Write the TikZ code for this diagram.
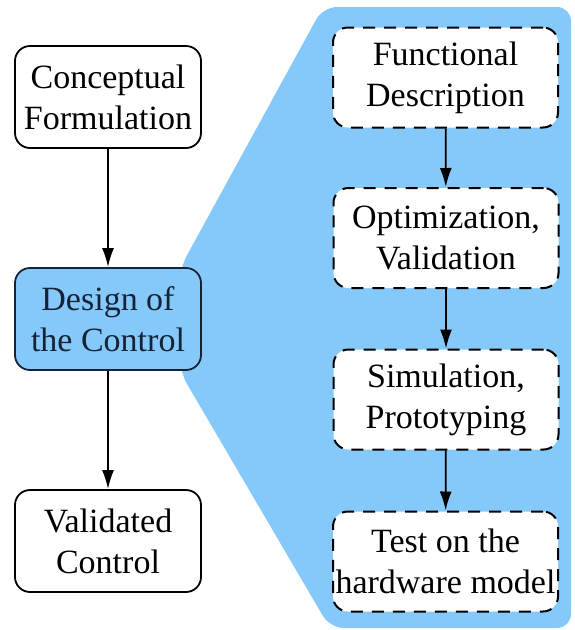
\documentclass[tikz,border=0pt]{standalone}
\usepackage{fontspec}
\setmainfont{Liberation Serif}
\usetikzlibrary{arrows.meta}
\definecolor{skyb}{RGB}{133,201,250}
\definecolor{navy}{RGB}{20,35,55}
\tikzset{
  box/.style={draw=black, line width=1.8pt, rounded corners=15pt, align=center,
    font=\fontsize{34}{41}\selectfont, inner sep=0pt, fill=white},
  leftbox/.style={box, minimum width=186pt, minimum height=102pt},
  dashbox/.style={box, minimum width=225pt, minimum height=100pt, line width=2pt, dash pattern=on 12pt off 9pt, draw=black},
  arr/.style={line width=1.8pt, -{Latex[length=19pt,width=12pt]}},
}
\begin{document}
\begin{tikzpicture}[x=1pt,y=-1pt]
\useasboundingbox (0,0) rectangle (574,630);
\fill[skyb, rounded corners=14pt] (180,268) -- (323,7) -- (571,7) -- (571,628) -- (330,628) -- (180,372) -- cycle;
\node[leftbox] (cf) at (108,97) {Conceptual\\Formulation};
\node[leftbox, fill=skyb, draw=navy, text=navy] (dc) at (108,319) {Design of\\the Control};
\node[leftbox] (vc) at (108,541) {Validated\\Control};
\node[dashbox] (fd) at (445.5,77.5) {Functional\\Description};
\node[dashbox] (ov) at (446,238) {Optimization,\\Validation};
\node[dashbox] (sp) at (446,399.5) {Simulation,\\Prototyping};
\node[dashbox] (th) at (445.5,561.5) {Test on the\\hardware model};
\draw[arr] (cf) -- (dc);
\draw[arr] (dc) -- (vc);
\draw[arr] (fd) -- (ov);
\draw[arr] (ov) -- (sp);
\draw[arr] (sp) -- (th);
\end{tikzpicture}
\end{document}
